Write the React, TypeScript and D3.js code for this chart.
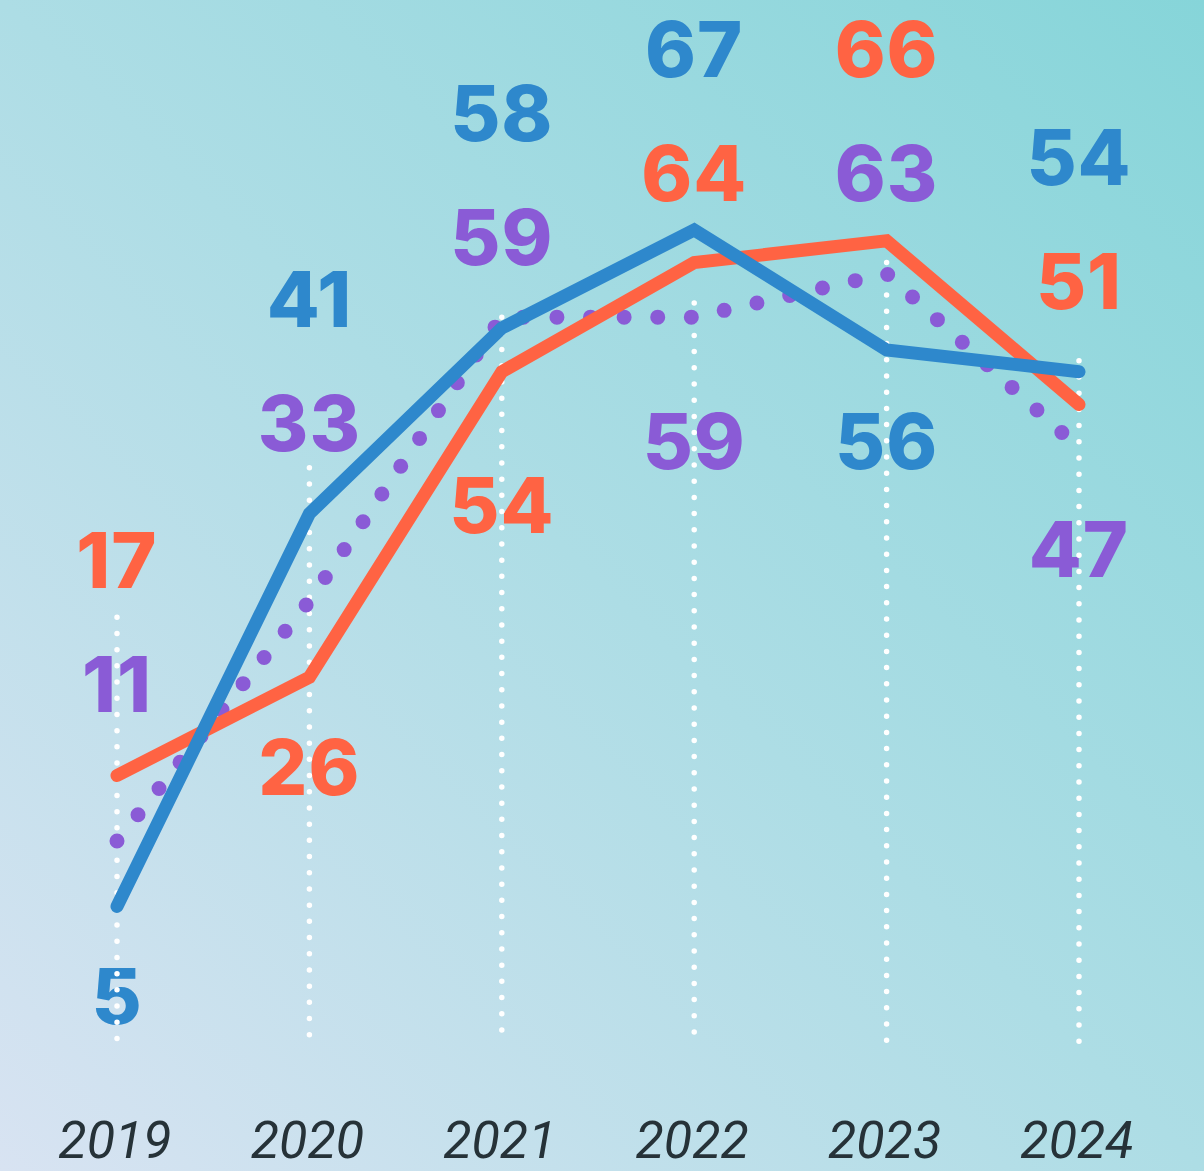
import React from "react";
import * as d3 from "d3";

const years = ["2019", "2020", "2021", "2022", "2023", "2024"];
const blueValues = [5, 41, 58, 67, 56, 54];
const orangeValues = [17, 26, 54, 64, 66, 51];
const purpleValues = [11, 33, 59, 59, 63, 47];
// value where each white dotted guide begins (in data units)
const guideFrom = [31.5, 45.2, 59, 60.3, 64, 55];

const W = 1204;
const H = 1171;

const BLUE = "#2e88cc";
const ORANGE = "#ff6343";
const PURPLE = "#8a5bd6";

type Series = { key: string; values: number[]; color: string; dotted: boolean; priority: number };

const series: Series[] = [
  { key: "blue", values: blueValues, color: BLUE, dotted: false, priority: 0 },
  { key: "orange", values: orangeValues, color: ORANGE, dotted: false, priority: 1 },
  { key: "purple", values: purpleValues, color: PURPLE, dotted: true, priority: 2 },
];

export default function App() {
  const x = d3.scalePoint<string>().domain(years).range([117, 1079]);
  const y = d3.scaleLinear().domain([0, 80]).range([961, 88]);
  const line = d3
    .line<number>()
    .x((_, i) => x(years[i]) as number)
    .y((d) => y(d));

  const numFont = "Inter, 'Open Sans', 'DejaVu Sans', sans-serif";
  const labels: { text: string; x: number; y: number; color: string }[] = [];
  years.forEach((yr, i) => {
    const entries = series
      .map((s) => ({ s, v: s.values[i] }))
      .sort((a, b) => (Math.abs(a.v - b.v) <= 1 ? a.s.priority - b.s.priority : b.v - a.v));
    const cx = x(yr) as number;
    const topC = Math.max(y(entries[0].v) - 215, 49);
    const secC = topC + 124;
    const botC = Math.max(secC + 268, y(entries[2].v) + 90);
    const cap = 28;
    labels.push({ text: String(entries[0].v), x: cx, y: topC + cap, color: entries[0].s.color });
    labels.push({ text: String(entries[1].v), x: cx, y: secC + cap, color: entries[1].s.color });
    labels.push({ text: String(entries[2].v), x: cx, y: botC + cap, color: entries[2].s.color });
  });

  return (
    <svg
      width={W}
      height={H}
      viewBox={`0 0 ${W} ${H}`}
      style={{ position: "absolute", left: 0, top: 0, display: "block" }}
    >
      <defs>
        <linearGradient id="bg" x1="0" y1="1" x2="1" y2="0">
          <stop offset="0" stopColor="#d8e3f2" />
          <stop offset="0.5" stopColor="#addde5" />
          <stop offset="1" stopColor="#86d5d9" />
        </linearGradient>
      </defs>
      <rect x={0} y={0} width={W} height={H} fill="url(#bg)" />

      {labels.map((l, k) => (
        <text
          key={"l" + k}
          x={l.x}
          y={l.y}
          textAnchor="middle"
          fill={l.color}
          style={{ fontFamily: numFont, fontWeight: 800, fontSize: 77, letterSpacing: 1 }}
        >
          {l.text}
        </text>
      ))}

      {years.map((yr, i) => (
        <line
          key={"g" + yr}
          x1={x(yr)}
          x2={x(yr)}
          y1={y(guideFrom[i])}
          y2={1045}
          stroke="#ffffff"
          strokeWidth={5.5}
          strokeLinecap="round"
          strokeDasharray="0 16.2"
        />
      ))}

      {series
        .slice()
        .reverse()
        .map((s) => (
          <path
            key={s.key}
            d={line(s.values) || ""}
            fill="none"
            stroke={s.color}
            strokeWidth={s.dotted ? 15 : 13}
            strokeLinecap="round"
            strokeLinejoin={s.dotted ? "round" : "miter"}
            strokeDasharray={s.dotted ? "0 33.6" : undefined}
          />
        ))}

      {years.map((yr) => (
        <text
          key={"t" + yr}
          x={(x(yr) as number) - 2}
          y={1158}
          textAnchor="middle"
          fill="#263238"
          style={{ fontFamily: "Roboto, 'Liberation Sans', sans-serif", fontStyle: "italic", fontSize: 52 }}
        >
          {yr}
        </text>
      ))}
    </svg>
  );
}
